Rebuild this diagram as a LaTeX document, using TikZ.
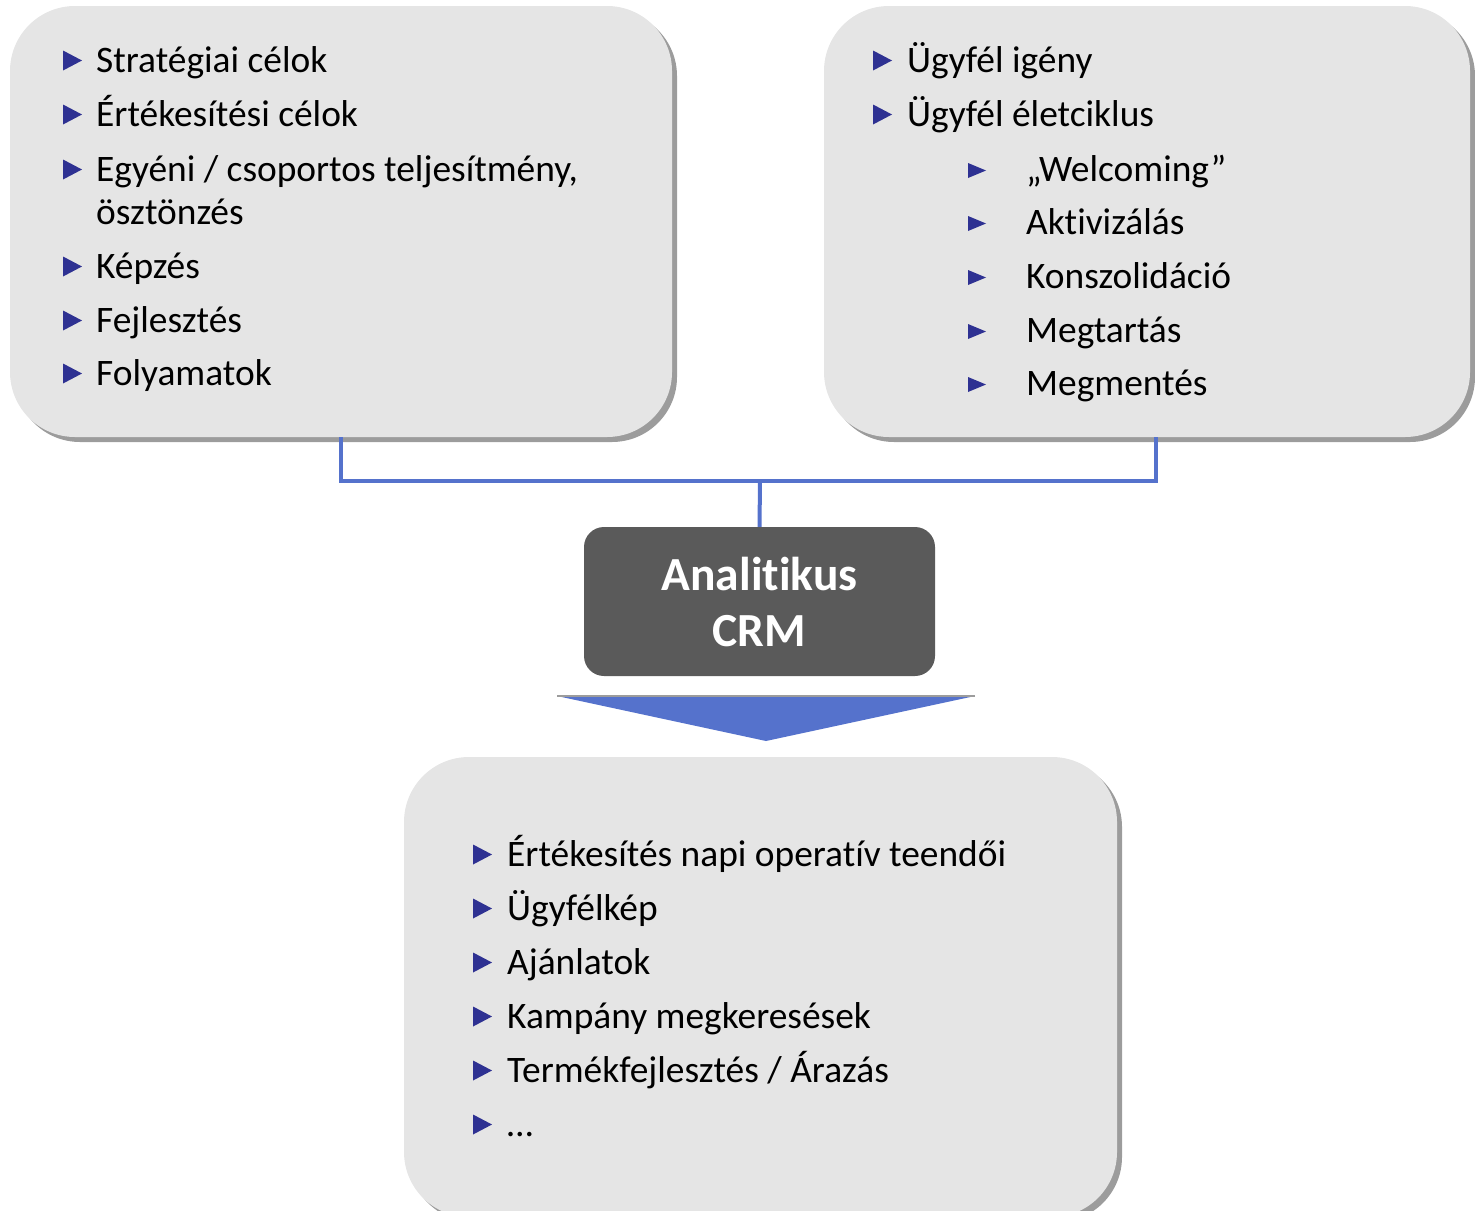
\documentclass[tikz,border=0pt]{standalone}
\usepackage{fontspec}
\setmainfont{Carlito}[Ligatures={NoCommon}]
\usetikzlibrary{shadows}
\definecolor{boxfill}{HTML}{E5E5E5}
\definecolor{shadowgray}{HTML}{9C9C9C}
\definecolor{crmfill}{HTML}{5A5A5A}
\definecolor{connblue}{RGB}{85,114,204}
\definecolor{bulc}{HTML}{2E3192}
\tikzset{
  x=1pt, y=-1pt,
  graybox/.style={rectangle, rounded corners=65pt, fill=boxfill, inner sep=0pt,
    drop shadow={shadow xshift=5pt, shadow yshift=-5pt, fill=shadowgray, opacity=1}},
  crmbox/.style={rectangle, rounded corners=20pt, fill=crmfill, inner sep=0pt,
    minimum width=351pt, minimum height=149pt, text=white, align=center,
    font=\fontsize{47.5}{56}\selectfont\bfseries},
  conn/.style={draw=connblue, line width=4pt},
  itemtext/.style={anchor=base west, inner sep=0pt, font=\fontsize{37.4}{44}\selectfont},
  tribul/.pic={\fill[bulc] (0,-10) -- (19,0) -- (0,10) -- cycle;},
  tribulsm/.pic={\fill[bulc] (0,-7.5) -- (18,0) -- (0,7.5) -- cycle;}
}
\begin{document}
\begin{tikzpicture}
\useasboundingbox (0,0) rectangle (1475,1210);
% boxes
\node[graybox, minimum width=662pt, minimum height=431pt] (lbox) at (341,221.5) {};
\node[graybox, minimum width=646pt, minimum height=431pt] (rbox) at (1147,221.5) {};
\node[graybox, minimum width=713pt, minimum height=460pt] (bbox) at (760.5,987) {};
\node[crmbox] (crm) at (759.5,601.5) {Analitikus\\CRM};
% connectors
\coordinate (j) at (760,481);
\draw[conn] (lbox.south) |- (j) -| ([xshift=9pt]rbox.south);
\draw[conn] (j) -- (crm.north);
% arrow triangle
\fill[connblue] (557,696) -- (975,696) -- (766,741) -- cycle;
\draw[shadowgray, line width=1.2pt] (557,696) -- (975,696);
% left box items
\foreach \b in {72,126,181,278,332,385} { \pic at (63,\b-11.5) {tribul}; }
\node[itemtext] (l1) at (96,72) {Stratégiai célok};
\node[itemtext] (l2) at (96,126) {Értékesítési célok};
\node[itemtext] (l3) at (96,181) {Egyéni / csoportos teljesítmény,};
\node[itemtext] (l4) at (96,224) {ösztönzés};
\node[itemtext] (l5) at (96,278) {Képzés};
\node[itemtext] (l6) at (96,332) {Fejlesztés};
\node[itemtext] (l7) at (96,385) {Folyamatok};
% right box items
\foreach \b in {72,126} { \pic at (873,\b-11.5) {tribul}; }
\foreach \b in {181,234,288,342,395} { \pic at (968,\b-10.5) {tribulsm}; }
\node[itemtext] (r1) at (907,72) {Ügyfél igény};
\node[itemtext] (r2) at (907,126) {Ügyfél életciklus};
\node[itemtext] (r3) at (1026,181) {„Welcoming”};
\node[itemtext] (r4) at (1026,234) {Aktivizálás};
\node[itemtext] (r5) at (1026,288) {Konszolidáció};
\node[itemtext] (r6) at (1026,342) {Megtartás};
\node[itemtext] (r7) at (1026,395) {Megmentés};
% bottom box items
\foreach \b in {866,920,974,1028,1082,1136} { \pic at (473,\b-11.5) {tribul}; }
\node[itemtext] (b1) at (507,866) {Értékesítés napi operatív teendői};
\node[itemtext] (b2) at (507,920) {Ügyfélkép};
\node[itemtext] (b3) at (507,974) {Ajánlatok};
\node[itemtext] (b4) at (507,1028) {Kampány megkeresések};
\node[itemtext] (b5) at (507,1082) {Termékfejlesztés / Árazás};
\node[itemtext] (b6) at (507,1136) {…};
\end{tikzpicture}
\end{document}
